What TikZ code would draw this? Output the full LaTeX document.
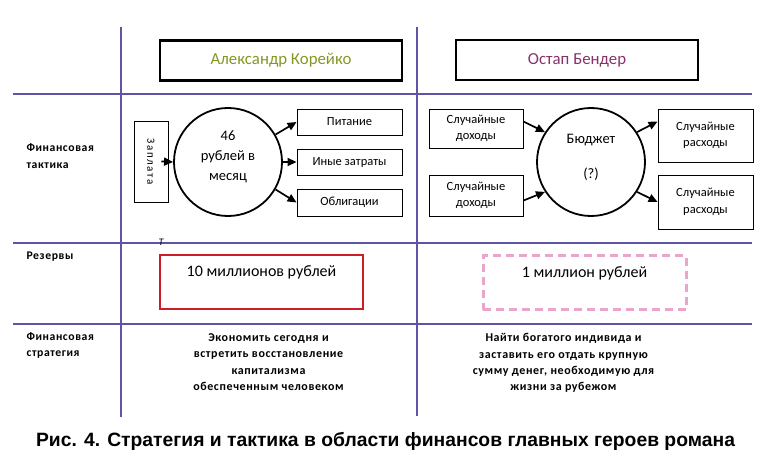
\documentclass[tikz,border=0pt]{standalone}
\usepackage{fontspec}
\setmainfont{Carlito}
\newfontfamily\labfont[LetterSpace=5]{Carlito Bold}
\newfontfamily\spfont[LetterSpace=15]{Carlito}
\newfontfamily\capfont{Liberation Sans}
\usetikzlibrary{arrows.meta,positioning}
\definecolor{gridblue}{RGB}{95,85,165}
\definecolor{koreiko}{RGB}{135,150,35}
\definecolor{bender}{RGB}{135,50,105}
\definecolor{resred}{RGB}{205,30,40}
\definecolor{respink}{RGB}{235,165,205}
\tikzset{
  gridline/.style={gridblue, line width=1.2pt},
  herobox/.style={draw, line width=2.2pt, minimum width=242pt, minimum height=40pt,
                  inner sep=0pt, font=\fontsize{16.8}{18}\selectfont},
  itembox/.style={draw, line width=0.9pt, inner sep=0pt, align=center,
                  font=\fontsize{12.5}{16.5}\selectfont},
  budget/.style={circle, draw, line width=1.8pt, minimum size=108pt, inner sep=0pt},
  budtext/.style={align=center, font=\fontsize{14.5}{20}\selectfont},
  flow/.style={-{Triangle[length=9pt,width=8pt]}, line width=1.7pt},
  resbox/.style={minimum width=203pt, minimum height=54pt, inner sep=0pt},
  restext/.style={font=\fontsize{16}{18}\selectfont},
  rowlabel/.style={anchor=west, align=left, font=\labfont\fontsize{11.7}{16.5}\selectfont},
  strategy/.style={anchor=north, align=center, font=\labfont\fontsize{12}{16.3}\selectfont},
}
\begin{document}
\begin{tikzpicture}[x=1pt,y=-1pt]
  \useasboundingbox (0,0) rectangle (767,465);
  % Grid
  \draw[gridline] (121,27) -- (121,417);
  \draw[gridline] (417,27) -- (417,416);
  \foreach \y in {94,243,324}{
    \draw[gridline] (13,\y) -- (752,\y);
  }
  % Heroes
  \node[herobox, text=koreiko] (kor) at (281,60.5) {Александр Корейко};
  \node[herobox, text=bender] (ben) at (577,60) {Остап Бендер};
  % Row labels
  \node[rowlabel] (lbtact) at (23,156) {Финансовая\\тактика};
  \node[rowlabel] (lbres) at (23,257) {Резервы};
  \node[rowlabel] (lbstr) at (23,345.5) {Финансовая\\стратегия};
  % Tactics: Koreiko
  \node[itembox, minimum width=81pt, minimum height=34pt, rotate=-90,
        font=\spfont\fontsize{11}{12}\selectfont] (zp) at (151,161.5) {Заплата};
  \node[budget] (kbud) at (228,162) {};
  \node[budtext] (kbudt) at (228,157) {46\\рублей в\\месяц};
  \node[itembox, minimum width=105pt, minimum height=26pt] (pit) at (349.5,122) {Питание};
  \node[itembox, minimum width=105pt, minimum height=26pt] (iny) at (349.5,162) {Иные затраты};
  \node[itembox, minimum width=105pt, minimum height=27pt] (obl) at (349.5,202.5) {Облигации};
  \draw[flow] ([xshift=-7pt]zp.north) -- (kbud.west);
  \foreach \a/\b in {30/pit, 0/iny, -30/obl}{
    \draw[flow] (kbud.\a) -- (\b.west);
  }
  % Tactics: Bender
  \node[itembox, minimum width=94pt, minimum height=39pt] (inc1) at (476,128.5) {Случайные\\доходы};
  \node[itembox, minimum width=94pt, minimum height=41pt] (inc2) at (476,195.5) {Случайные\\доходы};
  \node[budget] (bbud) at (591,162) {};
  \node[budtext, font=\fontsize{14.5}{35}\selectfont] (bbudt) at (591,157) {Бюджет\\(?)};
  \node[itembox, minimum width=95pt, minimum height=53pt] (exp1) at (705.5,135.5) {Случайные\\расходы};
  \node[itembox, minimum width=95pt, minimum height=54pt] (exp2) at (705.5,202) {Случайные\\расходы};
  \draw[flow] ([yshift=7pt]inc1.east) -- (bbud.147);
  \draw[flow] ([yshift=-5pt]inc2.east) -- (bbud.213);
  \draw[flow] (bbud.33) -- ([yshift=14pt]exp1.west);
  \draw[flow] (bbud.-33) -- (exp2.west);
  % Reserves
  \node[font=\itshape\fontsize{10}{12}\selectfont] (tmark) at (161,242) {Т};
  \node[resbox, draw=resred, line width=2.6pt] (res1) at (261.5,282) {};
  \node[restext] (res1t) at ([yshift=-19pt]res1.north) {10 миллионов рублей};
  \node[resbox, draw=respink, line width=3pt, dash pattern=on 8pt off 5pt] (res2) at (584.5,282.5) {};
  \node[restext] (res2t) at ([yshift=-19pt]res2.north) {1 миллион рублей};
  % Strategy
  \node[strategy] (str1) at (268.5,330) {Экономить сегодня и\\встретить  восстановление\\капитализма\\обеспеченным человеком};
  \node[strategy] (str2) at (563.5,330) {Найти богатого индивида и\\заставить его отдать крупную\\сумму денег, необходимую для\\жизни за рубежом};
  % Caption
  \node[font=\capfont\bfseries\fontsize{19.3}{21}\selectfont] (cap) at (385.5,441)
    {Рис. 4. Стратегия и тактика в области финансов главных героев романа};
\end{tikzpicture}
\end{document}
